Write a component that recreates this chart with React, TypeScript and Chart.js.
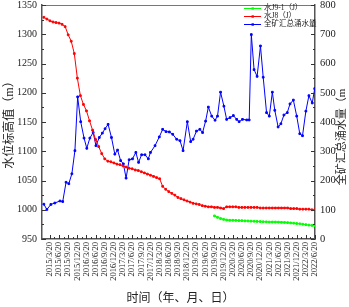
import React, { useEffect, useRef } from "react";
import { Chart, registerables } from "chart.js";

Chart.register(...registerables);

// Month offsets are counted from 2015/3/20 (0 = 2015/3/20)
const xTickLabels = [
  "2015/3/20", "2015/6/20", "2015/9/20", "2015/12/20",
  "2016/3/20", "2016/6/20", "2016/9/20", "2016/12/20",
  "2017/3/20", "2017/6/20", "2017/9/20", "2017/12/20",
  "2018/3/20", "2018/6/20", "2018/9/20", "2018/12/20",
  "2019/3/20", "2019/6/20", "2019/9/20", "2019/12/20",
  "2020/3/20", "2020/6/20", "2020/9/20", "2020/12/20",
  "2021/3/20", "2021/6/20", "2021/9/20", "2021/12/20",
  "2022/3/20", "2022/6/20",
];
const xTickMonths = xTickLabels.map((_, i) => i * 3);

const leftTicks = [950, 1000, 1050, 1100, 1150, 1200, 1250, 1300, 1350];
const rightTicks = [0, 100, 200, 300, 400, 500, 600, 700, 800];

const seriesNames = ["水J9-1（J）", "水J8（J）", "全矿汇总涌水量"];
const seriesColors = ["#00ff00", "#ff0000", "#0000ff"];

// 水J9-1 (J) water level, monthly from 2019/9/20
const j91Months = [54, 55, 56, 57, 58, 59, 60, 61, 62, 63, 64, 65, 66, 67, 68, 69, 70, 71, 72, 73, 74, 75, 76, 77, 78, 79, 80, 81, 82, 83, 84, 85, 86, 87];
const j91Values = [989.5, 987, 985, 983.5, 982.5, 982, 982, 981.8, 981.5, 981.3, 981, 980.8, 980.5, 980.3, 980, 979.8, 979.5, 979.3, 979, 979, 979, 978.8, 978.5, 978.3, 978, 977.5, 977, 976.5, 976, 975.3, 974.5, 973.8, 973.2, 972.6];

// 水J8 (J) water level, monthly from 2015/1/20
const j8Months = [-2, -1, 0, 1, 2, 3, 4, 5, 6, 7, 8, 9, 10, 11, 12, 13, 14, 15, 16, 17, 18, 19, 20, 21, 22, 23, 24, 25, 26, 27, 28, 29, 30, 31, 32, 33, 34, 35, 36, 37, 38, 39, 40, 41, 42, 43, 44, 45, 46, 47, 48, 49, 50, 51, 52, 53, 54, 55, 56, 57, 58, 59, 60, 61, 62, 63, 64, 65, 66, 67, 68, 69, 70, 71, 72, 73, 74, 75, 76, 77, 78, 79, 80, 81, 82, 83, 84, 85, 86, 87];
const j8Values = [
  1329, 1326, 1323, 1321, 1320, 1319, 1317, 1313, 1299, 1288,
  1267, 1225, 1195, 1180, 1169, 1152, 1136, 1120, 1108, 1096,
  1087, 1083, 1082, 1080, 1078, 1077, 1075, 1073, 1071, 1070,
  1068, 1067, 1065, 1063, 1061, 1059, 1057, 1055, 1053, 1040,
  1035, 1031, 1028, 1025, 1021, 1019, 1017, 1015, 1013, 1011,
  1010, 1009, 1007, 1006, 1005, 1005, 1004, 1004, 1003, 1002,
  1005, 1005, 1005, 1005, 1004, 1004, 1004, 1004, 1004, 1004,
  1004, 1003, 1003, 1003, 1003, 1003, 1003, 1003, 1003, 1003,
  1003, 1002, 1002, 1002, 1001, 1001, 1001, 1001, 1000, 1000,
];

// 全矿汇总涌水量 (right axis)
const totalMonths = [
  -2, -1, 0.3, 1.6, 3.3, 4.2, 5.3, 6.2, 7.2, 8.2, 9.1, 10.1, 11.2, 12.1, 13.1, 14.2, 15.1, 16.2, 17.2, 18.1,
  19.1, 20.2, 21.3, 22.2, 23.2, 24.1, 25.0, 26.0, 27.1, 28.2, 29.1, 30.1, 31.2, 32.3, 33.0, 34.5, 35.9, 37.0, 38.1, 39.2,
  40.3, 41.6, 42.7, 43.7, 45.1, 46.2, 47.0, 48.1, 49.2, 50.1, 51.1, 52.0, 53.1, 54.2, 55.0, 56.0, 57.1, 58.0, 59.1, 60.2,
  61.3, 62.1, 63.2, 64.6, 65.4, 66.1, 67.0, 68.0, 69.1, 70.0, 71.1, 72.0, 73.0, 73.8, 74.9, 75.8, 76.8, 77.9, 78.8, 79.9,
  81.0, 82.0, 82.9, 84.0, 85.0, 86.1, 86.9,
];
const totalValues = [
  119, 101, 118, 123, 130, 128, 194, 189, 223, 302, 486, 401, 345, 310, 345, 364, 319, 347, 362, 377,
  392, 347, 290, 304, 268, 257, 208, 271, 274, 296, 262, 288, 288, 274, 296, 319, 349, 375, 367, 366,
  358, 341, 336, 302, 401, 333, 341, 369, 375, 364, 403, 451, 420, 406, 420, 502, 454, 409, 415, 422,
  409, 401, 409, 407, 407, 699, 579, 556, 660, 553, 432, 420, 502, 440, 383, 394, 424, 432, 462, 475,
  420, 360, 353, 437, 490, 465, 514,
];

const leftTitle = "水位标高值（m）";
const rightTitle = "全矿汇总涌水量（m";
const xTitle = "时间（年、月、日）";

const NUM_FONT = "'Liberation Serif', 'Times New Roman', serif";
const CJK_FONT = "'Liberation Serif', 'Noto Sans CJK SC', serif";
const TEXT = "#222";
const AXIS = "#555";

const zip = (xs: number[], ys: number[]) => xs.map((x, i) => ({ x, y: ys[i] }));

const decorPlugin = {
  id: "decor",
  afterDraw(chart: any) {
    const ctx = chart.ctx as CanvasRenderingContext2D;
    const { left, right, top, bottom } = chart.chartArea;
    const xs = chart.scales.x;
    const yl = chart.scales.y;
    const yr = chart.scales.y1;
    ctx.save();
    // top frame line
    ctx.strokeStyle = "#777";
    ctx.lineWidth = 1;
    ctx.beginPath();
    ctx.moveTo(left, top + 0.5);
    ctx.lineTo(right, top + 0.5);
    ctx.stroke();
    // ticks
    ctx.strokeStyle = "#333";
    ctx.lineWidth = 1;
    ctx.beginPath();
    xTickMonths.forEach((m, i) => {
      const px = Math.round(xs.getPixelForValue(m)) + 0.5;
      ctx.moveTo(px, bottom);
      ctx.lineTo(px, bottom - 4);
      if (i < xTickMonths.length - 1) {
        const pm = Math.round(xs.getPixelForValue(m + 1.5)) + 0.5;
        ctx.moveTo(pm, bottom);
        ctx.lineTo(pm, bottom - 2);
      }
    });
    leftTicks.forEach((v, i) => {
      const py = Math.round(yl.getPixelForValue(v)) + 0.5;
      ctx.moveTo(left, py);
      ctx.lineTo(left + 4, py);
      if (i < leftTicks.length - 1) {
        const pm = Math.round(yl.getPixelForValue(v + 25)) + 0.5;
        ctx.moveTo(left, pm);
        ctx.lineTo(left + 2, pm);
      }
    });
    rightTicks.forEach((v, i) => {
      const py = Math.round(yr.getPixelForValue(v)) + 0.5;
      ctx.moveTo(right, py);
      ctx.lineTo(right - 4, py);
      if (i < rightTicks.length - 1) {
        const pm = Math.round(yr.getPixelForValue(v + 50)) + 0.5;
        ctx.moveTo(right, pm);
        ctx.lineTo(right - 2, pm);
      }
    });
    ctx.stroke();

    // axis titles
    ctx.fillStyle = TEXT;
    ctx.textAlign = "center";
    ctx.textBaseline = "middle";
    ctx.font = `12px ${CJK_FONT}`;
    ctx.save();
    ctx.translate(10, (top + bottom) / 2);
    ctx.rotate(-Math.PI / 2);
    ctx.fillText(leftTitle, 0, 0);
    ctx.restore();
    ctx.font = `11px ${CJK_FONT}`;
    ctx.save();
    ctx.translate(342, 137);
    ctx.rotate(-Math.PI / 2);
    ctx.fillText(rightTitle, 0, 0);
    ctx.restore();
    ctx.font = `12px ${CJK_FONT}`;
    ctx.fillText(xTitle, (left + right) / 2 + 2, 299);

    // legend
    ctx.font = `7.5px ${CJK_FONT}`;
    ctx.textAlign = "left";
    const rows = [8.5, 16.5, 24.5];
    seriesNames.forEach((name, i) => {
      const y = rows[i];
      ctx.strokeStyle = seriesColors[i];
      ctx.lineWidth = 1;
      ctx.beginPath();
      ctx.moveTo(244, y);
      ctx.lineTo(261, y);
      ctx.stroke();
      ctx.fillStyle = seriesColors[i];
      ctx.fillRect(251.5, y - 1.2, 2.4, 2.4);
      ctx.fillStyle = TEXT;
      ctx.fillText(name, 264, y);
    });
    ctx.restore();
  },
};

export default function App() {
  const ref = useRef<HTMLCanvasElement | null>(null);
  useEffect(() => {
    if (!ref.current) return;
    const common = {
      borderWidth: 1,
      pointStyle: "rect",
      pointRadius: 1.2,
      pointBorderWidth: 1,
      tension: 0,
    };
    const chart = new Chart(ref.current, {
      type: "line",
      data: {
        datasets: [
          {
            ...common,
            label: seriesNames[0],
            data: zip(j91Months, j91Values),
            borderColor: seriesColors[0],
            backgroundColor: seriesColors[0],
            yAxisID: "y",
          },
          {
            ...common,
            label: seriesNames[1],
            data: zip(j8Months, j8Values),
            borderColor: seriesColors[1],
            backgroundColor: seriesColors[1],
            yAxisID: "y",
          },
          {
            ...common,
            label: seriesNames[2],
            data: zip(totalMonths, totalValues),
            borderColor: seriesColors[2],
            backgroundColor: seriesColors[2],
            yAxisID: "y1",
          },
        ] as any,
      },
      options: {
        responsive: false,
        animation: false,
        layout: { padding: { top: 3, left: 0, right: 0, bottom: 0 } },
        plugins: { legend: { display: false }, tooltip: { enabled: false } },
        scales: {
          x: {
            type: "linear",
            min: -2.6,
            max: 87,
            grid: { display: false, drawTicks: false },
            border: { display: true, color: AXIS, width: 1.5 },
            afterBuildTicks: (scale: any) => {
              scale.ticks = xTickMonths.map((v) => ({ value: v }));
            },
            afterFit: (scale: any) => {
              scale.height = 68;
              scale.paddingLeft = 0;
              scale.paddingRight = 0;
            },
            ticks: {
              autoSkip: false,
              minRotation: 90,
              maxRotation: 90,
              padding: 3,
              color: TEXT,
              font: { family: NUM_FONT, size: 8.5 },
              callback: (_v: any, i: number) => xTickLabels[i],
            },
          },
          y: {
            type: "linear",
            position: "left",
            min: 950,
            max: 1350,
            grid: { display: false, drawTicks: false },
            border: { display: true, color: AXIS, width: 1.5 },
            afterFit: (scale: any) => {
              scale.width = 42;
              scale.paddingTop = 0;
              scale.paddingBottom = 0;
            },
            afterBuildTicks: (scale: any) => {
              scale.ticks = leftTicks.map((v) => ({ value: v }));
            },
            ticks: {
              padding: 5,
              color: TEXT,
              font: { family: NUM_FONT, size: 10 },
              callback: (v: any) => String(v),
            },
          },
          y1: {
            type: "linear",
            position: "right",
            min: 0,
            max: 800,
            grid: { display: false, drawTicks: false },
            border: { display: true, color: AXIS, width: 1.5 },
            afterFit: (scale: any) => {
              scale.width = 34;
              scale.paddingTop = 0;
              scale.paddingBottom = 0;
            },
            afterBuildTicks: (scale: any) => {
              scale.ticks = rightTicks.map((v) => ({ value: v }));
            },
            ticks: {
              padding: 5,
              color: TEXT,
              font: { family: NUM_FONT, size: 10.5 },
              callback: (v: any) => String(v),
            },
          },
        },
      } as any,
      plugins: [decorPlugin],
    });
    return () => chart.destroy();
  }, []);
  return (
    <div style={{ position: "fixed", left: 0, top: 0, width: 349, height: 307, background: "#fff" }}>
      <canvas ref={ref} width={349} height={307} style={{ width: 349, height: 307, display: "block" }} />
    </div>
  );
}
